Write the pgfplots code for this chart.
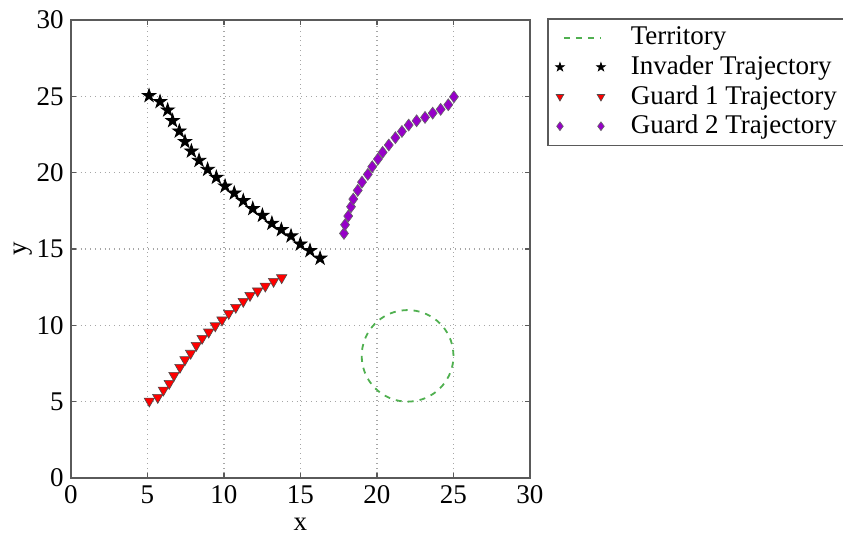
\documentclass[border=0pt]{standalone}
\usepackage{fontspec}
\setmainfont{Liberation Serif}
\usepackage{pgfplots}
\pgfplotsset{compat=1.18}
\definecolor{terr}{RGB}{80,176,80}
\definecolor{gtwo}{RGB}{150,0,200}
\definecolor{framec}{RGB}{90,90,90}
\pgfdeclareplotmark{fstar}{%
  \pgfpathmoveto{\pgfqpoint{0pt}{\pgfplotmarksize}}%
  \pgfpathlineto{\pgfqpoint{-0.2245\pgfplotmarksize}{0.309\pgfplotmarksize}}%
  \pgfpathlineto{\pgfqpoint{-0.951\pgfplotmarksize}{0.309\pgfplotmarksize}}%
  \pgfpathlineto{\pgfqpoint{-0.363\pgfplotmarksize}{-0.118\pgfplotmarksize}}%
  \pgfpathlineto{\pgfqpoint{-0.588\pgfplotmarksize}{-0.809\pgfplotmarksize}}%
  \pgfpathlineto{\pgfqpoint{0pt}{-0.382\pgfplotmarksize}}%
  \pgfpathlineto{\pgfqpoint{0.588\pgfplotmarksize}{-0.809\pgfplotmarksize}}%
  \pgfpathlineto{\pgfqpoint{0.363\pgfplotmarksize}{-0.118\pgfplotmarksize}}%
  \pgfpathlineto{\pgfqpoint{0.951\pgfplotmarksize}{0.309\pgfplotmarksize}}%
  \pgfpathlineto{\pgfqpoint{0.2245\pgfplotmarksize}{0.309\pgfplotmarksize}}%
  \pgfpathclose
  \pgfusepathqfillstroke}
\pgfplotsset{
  twomarks/.style={legend image code/.code={\draw[##1, mark size=2.2pt] plot coordinates {(0pt,0pt) (20.5pt,0pt)}; \path (33pt,0pt);}},
  lineleg/.style={legend image code/.code={\draw[##1] (2pt,0pt) -- (20.5pt,0pt); \path (33pt,0pt);}},
}
\begin{document}
\fontsize{13.5pt}{16pt}\selectfont
\begin{tikzpicture}
\begin{axis}[
  scale only axis,
  width=229.5pt, height=229pt,
  xmin=0, xmax=30, ymin=0, ymax=30,
  xtick={0,5,10,15,20,25,30},
  ytick={0,5,10,15,20,25,30},
  /pgf/number format/assume math mode=true,
  ticklabel style={font=\fontsize{13.5pt}{16pt}\selectfont},
  label style={font=\fontsize{13.5pt}{16pt}\selectfont},
  xlabel={x}, ylabel={y},
  xlabel style={yshift=2pt},
  ylabel style={yshift=-7pt},
  xticklabel style={yshift=1pt},
  yticklabel style={xshift=1pt},
  grid=major,
  major grid style={gray!70, dotted, line width=0.6pt},
  axis line style={framec, line width=1pt},
  tick style={framec, line width=0.6pt},
  tick align=inside,
  major tick length=2.5pt,
  legend style={at={(1.037,1.004)}, anchor=north west, draw=framec, line width=0.8pt,
    font=\fontsize{13.5pt}{16pt}\selectfont, row sep=-0.6pt, inner xsep=4pt, inner ysep=2pt},
  legend cell align=left,
]
\addplot[terr, dashed, line width=0.9pt, smooth, lineleg]
coordinates {(25,8) (24.954,8.521) (24.819,9.026) (24.598,9.5) (24.298,9.928) (23.928,10.298) (23.5,10.598) (23.026,10.819) (22.521,10.954) (22,11) (21.479,10.954) (20.974,10.819) (20.5,10.598) (20.072,10.298) (19.702,9.928) (19.402,9.5) (19.181,9.026) (19.046,8.521) (19,8) (19.046,7.479) (19.181,6.974) (19.402,6.5) (19.702,6.072) (20.072,5.702) (20.5,5.402) (20.974,5.181) (21.479,5.046) (22,5) (22.521,5.046) (23.026,5.181) (23.5,5.402) (23.928,5.702) (24.298,6.072) (24.598,6.5) (24.819,6.974) (24.954,7.479) (25,8)};
\addlegendentry{Territory}
\addplot[only marks, mark=fstar, mark size=3.5pt, draw=black, fill=black,
  mark options={line width=0.4pt}, twomarks]
coordinates {(5.10,25.04) (5.82,24.65) (6.32,24.10) (6.64,23.40) (7.08,22.72) (7.45,22.03) (7.87,21.41) (8.37,20.80) (8.93,20.21) (9.50,19.69) (10.07,19.12) (10.67,18.66) (11.26,18.16) (11.88,17.64) (12.51,17.20) (13.13,16.68) (13.75,16.26) (14.38,15.85) (14.99,15.32) (15.62,14.89) (16.28,14.39)};
\addlegendentry{Invader Trajectory}
\addplot[only marks, mark=triangle*, mark size=3pt, draw=black!70, fill=red,
  mark options={rotate=180, line width=0.3pt}, twomarks]
coordinates {(5.12,5.04) (5.67,5.28) (6.04,5.76) (6.42,6.20) (6.73,6.72) (7.12,7.25) (7.45,7.75) (7.82,8.17) (8.19,8.69) (8.57,9.15) (9.00,9.56) (9.43,9.97) (9.87,10.35) (10.31,10.78) (10.77,11.18) (11.26,11.57) (11.70,11.96) (12.20,12.25) (12.70,12.57) (13.24,12.88) (13.77,13.12)};
\addlegendentry{Guard 1 Trajectory}
\addplot[only marks, mark=diamond*, mark size=3pt, draw=black!60, fill=gtwo,
  mark options={line width=0.3pt}, twomarks]
coordinates {(17.84,16.02) (17.91,16.59) (18.12,17.16) (18.30,17.77) (18.45,18.27) (18.74,18.84) (19.02,19.38) (19.40,19.89) (19.69,20.39) (20.06,20.89) (20.37,21.33) (20.77,21.81) (21.20,22.29) (21.63,22.70) (22.07,23.12) (22.59,23.40) (23.14,23.62) (23.64,23.90) (24.16,24.15) (24.66,24.45) (25.03,24.97)};
\addlegendentry{Guard 2 Trajectory}
\end{axis}
\pgfresetboundingbox
\path[use as bounding box] ([shift={(-35.5pt,-28.5pt)}]current axis.south west) rectangle ([shift={(156.5pt,10pt)}]current axis.north east);
\end{tikzpicture}
\end{document}
